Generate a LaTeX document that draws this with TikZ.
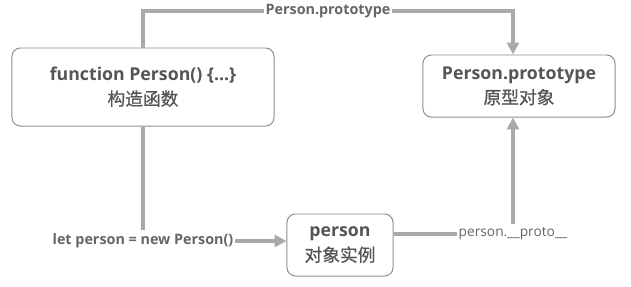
\documentclass[tikz,border=0pt]{standalone}
\usepackage{fontspec}
\setmainfont{Open Sans}
\newfontfamily\cjk[FakeBold=0.8]{Noto Sans CJK SC}
\usepackage{xcolor}
\usepackage{tikz}
\usetikzlibrary{arrows.meta, calc, positioning}
\definecolor{Ink}     {HTML}{555555}
\definecolor{LabelInk}{HTML}{666666}
\definecolor{Frame}   {HTML}{8E8E8E}
\definecolor{Wire}    {HTML}{A9A9A9}
\tikzset{
  proto arrow/.style={-{Triangle[length=8.5pt,width=8.5pt]}, line width=2.2pt, draw=Wire},
}
\begin{document}
\begin{tikzpicture}[x=0.025cm, y=-0.025cm,
    objbox/.style={draw=Frame, line width=0.7pt, rounded corners=6pt, fill=white,
                   align=center, text=Ink, inner sep=0pt,
                   font=\fontsize{12.6}{17.5}\selectfont},
    wirelabel/.style={fill=white, text=LabelInk, inner xsep=1pt, inner ysep=3pt,
                      font=\fontsize{9.8}{11}\selectfont},
    boldlabel/.style={wirelabel, font=\fontsize{10.2}{11}\selectfont\bfseries}]
  \useasboundingbox (0,0) rectangle (631,286);
  % Nodes
  \node[objbox, minimum width=6.55cm, minimum height=1.95cm] (ctor) at (143,87)
       {\textbf{function Person() \{...\}}\\{\cjk 构造函数}};
  \node[objbox, minimum width=4.8cm, minimum height=1.55cm] (proto) at (519,86)
       {\textbf{Person.prototype}\\{\cjk 原型对象}};
  \node[objbox, minimum width=2.65cm, minimum height=1.55cm] (inst) at (340,245)
       {\textbf{person}\\{\cjk 对象实例}};
  \coordinate (bend) at (0,11);
  \coordinate (proto in)  at ($(proto.north)+(-6,0)$);
  \coordinate (proto up)  at ($(proto.south)+(-6,0)$);
  \coordinate (inst in)   at ($(inst.west)+(0,-4)$);
  \coordinate (inst out)  at ($(inst.east)+(0,-11)$);
  % Arrows
  \draw[proto arrow] (ctor.north) -- (ctor.north |- bend)
       -- node[boldlabel]{Person.prototype} (proto in |- bend)
       -- (proto in);
  \draw[proto arrow] (ctor.south) |- node[boldlabel]{let person = new Person()} (inst in);
  \draw[proto arrow] (inst out) -| node[wirelabel]{person.\_\_proto\_\_} (proto up);
\end{tikzpicture}
\end{document}
